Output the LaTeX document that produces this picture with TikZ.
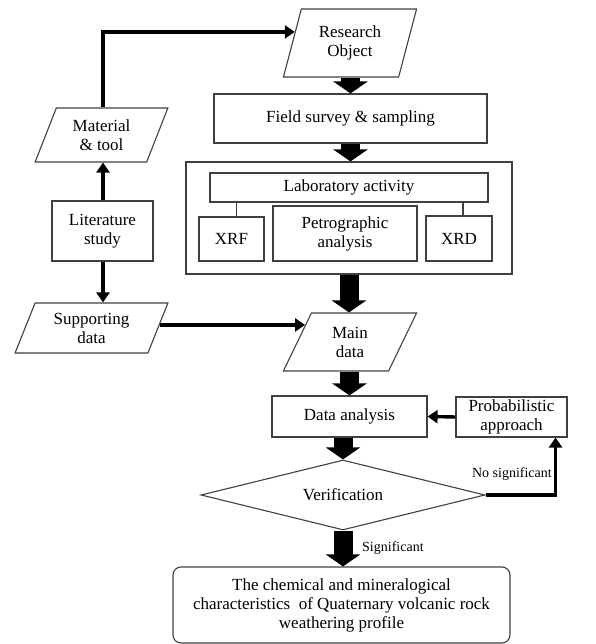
\documentclass[tikz,border=0pt]{standalone}
\usepackage{fontspec}
\setmainfont{Liberation Serif}
\usetikzlibrary{shapes.geometric,arrows.meta,calc}
\begin{document}
\begin{tikzpicture}[x=1pt,y=1pt,
  txt/.style={font=\fontsize{17}{19}\selectfont, align=center, text=black},
  box/.style={txt, draw=black!75, line width=1.1pt, rectangle, inner sep=1pt},
  para/.style={txt, draw=black!75, line width=1.1pt, trapezium, trapezium stretches=true, inner sep=1pt},
  bigarrow/.style={line width=19pt, -{Triangle[width=34pt,length=12pt]}, black},
  midarrow/.style={line width=3.4pt, -{Triangle[width=13pt,length=10pt]}, black},
  thinline/.style={draw=black!75, line width=1.1pt},
  small/.style={font=\fontsize{14}{16}\selectfont, text=black, inner sep=0pt}
]
\useasboundingbox (0,0) rectangle (595,644);

% right column
\node[para, trapezium left angle=72, trapezium right angle=108, minimum width=134pt, minimum height=68pt] (research) at (350,601) {Research\\Object};
\node[box, minimum width=273pt, minimum height=49pt] (field) at (350.5,525.5) {Field survey \& sampling};
\node[box, minimum width=326pt, minimum height=112pt] (labouter) at (349,426) {};
\node[box, minimum width=278pt, minimum height=29pt] (labact) at (349,456.5) {Laboratory activity};
\node[box, minimum width=65pt, minimum height=44pt] (xrf) at (231.5,405) {XRF};
\node[box, minimum width=144pt, minimum height=55pt] (petro) at (345,410.5) {Petrographic\\analysis};
\node[box, minimum width=66pt, minimum height=45pt] (xrd) at (459,405.5) {XRD};
\node[para, trapezium left angle=67, trapezium right angle=113, minimum width=134pt, minimum height=58pt] (maindata) at (350,302) {Main\\data};
\node[box, minimum width=155pt, minimum height=41pt] (dataan) at (349.5,227.5) {Data analysis};
\node[box, minimum width=111pt, minimum height=40pt] (prob) at (511.5,227) {Probabilistic\\approach};
\node[txt, draw=black!75, line width=1.1pt, diamond, shape aspect=4, inner sep=0pt, minimum width=284pt, minimum height=70pt] (verif) at (343,149) {Verification};
\node[box, rounded corners=8pt, minimum width=337pt, minimum height=76pt] (final) at (341.5,39) {The chemical and mineralogical\\characteristics\ \ of Quaternary volcanic rock\\weathering profile};

% left column
\node[para, trapezium left angle=67, trapezium right angle=113, minimum width=133pt, minimum height=54pt] (material) at (101.5,509) {Material\\\& tool};
\node[box, minimum width=101pt, minimum height=60pt] (lit) at (102.5,413) {Literature\\study};
\node[para, trapezium left angle=67, trapezium right angle=113, minimum width=153pt, minimum height=50pt] (support) at (91.5,316) {Supporting\\data};

% lab connectors
\draw[thinline] ([xshift=5pt]xrf.north) -- ([xshift=5pt]xrf.north |- labact.south);
\draw[thinline] ([xshift=4pt]xrd.north) -- ([xshift=4pt]xrd.north |- labact.south);

% big arrows
\draw[bigarrow] (research.south -| field.north) -- (field.north);
\draw[bigarrow] (field.south) -- (field.south |- labouter.north);
\draw[bigarrow] (labouter.south) -- (labouter.south |- maindata.north);
\draw[bigarrow] (maindata.south -| dataan.north) -- (dataan.north);
\draw[bigarrow] (dataan.south -| verif.north) -- (verif.north);
\draw[bigarrow] (verif.south) -- (verif.south |- final.north);
\node[small, anchor=west] (sig) at (362,96) {Significant};

% medium arrows
\coordinate (roin) at ($(research.bottom left corner)!0.66!(research.top left corner)$);
\draw[midarrow] (lit.north -| 103,0) -- (103,0 |- material.south);
\draw[midarrow] (material.north -| 103,0) |- (roin);
\draw[midarrow] (lit.south -| 103,0) -- (103,0 |- support.north);
\coordinate (sout) at ($(support.bottom right corner)!0.56!(support.top right corner)$);
\coordinate (mdin) at ($(maindata.bottom left corner)!0.79!(maindata.top left corner)$);
\draw[midarrow] (sout) -- (sout -| mdin);
\draw[midarrow] (prob.west) -- (dataan.east);
\coordinate (pk) at ($(prob.south east)+(-12,0)$);
\draw[midarrow] (verif.east) -| (pk);
\node[small, anchor=south east] (nosig) at (552,163) {No significant};
\end{tikzpicture}
\end{document}
